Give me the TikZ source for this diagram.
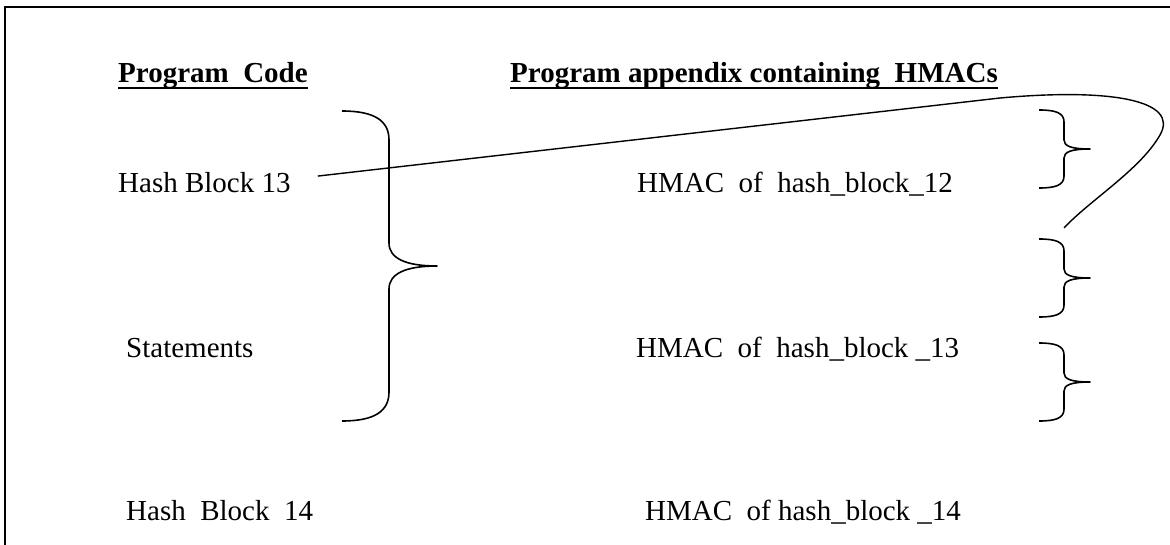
\documentclass[tikz,border=0pt]{standalone}
\usepackage{fontspec}
\setmainfont{Liberation Serif}
\newcommand{\souligne}[1]{\setbox0=\hbox{#1}\rlap{\rule[-6pt]{\wd0}{2.4pt}}\box0}

\begin{document}
\begin{tikzpicture}[x=1pt, y=-1pt]
\tikzset{texte/.style={anchor=base west, inner sep=0pt, font=\fontsize{29}{34}\selectfont}}
\tikzset{accolade/.style={line width=1.6pt, line join=round}}
\useasboundingbox (0,0) rectangle (1170,545);
\draw[line width=1.8pt] (5,545) -- (5,7) -- (1170,7);
\node[texte] (titreCode) at (118,83) {\souligne{\textbf{Program~ Code}}};
\node[texte] (titreAnnexe) at (510,83) {\souligne{\textbf{Program appendix containing~ HMACs}}};
\node[texte] (bloc13) at (118,193) {Hash Block 13};
\node[texte] (instr) at (126,357) {Statements};
\node[texte] (bloc14) at (126,520) {Hash~ Block~ 14};
\node[texte] (hmac12) at (637,193) {HMAC~ of~ hash\_block\_12};
\node[texte] (hmac13) at (636,357) {HMAC~ of~ hash\_block \_13};
\node[texte] (hmac14) at (645,520) {HMAC~ of hash\_block \_14};
\draw[accolade] (342,111) .. controls (375,111) and (389,121) .. (389,140) -- (389,243)
  .. controls (389,258) and (405,266) .. (437,266) .. controls (405,266) and (389,274) .. (389,289)
  -- (389,392) .. controls (389,411) and (375,421) .. (342,421);
\draw[accolade] (1039,110) .. controls (1056,110) and (1064,113) .. (1064,122) -- (1064,140)
  .. controls (1064,146) and (1071,149) .. (1090,149) .. controls (1071,149) and (1064,152) .. (1064,158)
  -- (1064,176) .. controls (1064,185) and (1056,188) .. (1039,188);
\draw[accolade] (1039,239) .. controls (1056,239) and (1064,242) .. (1064,251) -- (1064,269)
  .. controls (1064,275) and (1071,278) .. (1090,278) .. controls (1071,278) and (1064,281) .. (1064,287)
  -- (1064,305) .. controls (1064,314) and (1056,317) .. (1039,317);
\draw[accolade] (1039,343) .. controls (1056,343) and (1064,346) .. (1064,355) -- (1064,373)
  .. controls (1064,379) and (1071,382) .. (1090,382) .. controls (1071,382) and (1064,385) .. (1064,391)
  -- (1064,409) .. controls (1064,418) and (1056,421) .. (1039,421);
\coordinate (fin) at (1064,228);
\draw[line width=1.4pt] ([shift={(27,-7)}]bloc13.east) -- (1000,98)
  .. controls (1110,88) and (1180,100) .. (1160,135) .. controls (1140,170) and (1090,200) .. (fin);
\end{tikzpicture}
\end{document}
